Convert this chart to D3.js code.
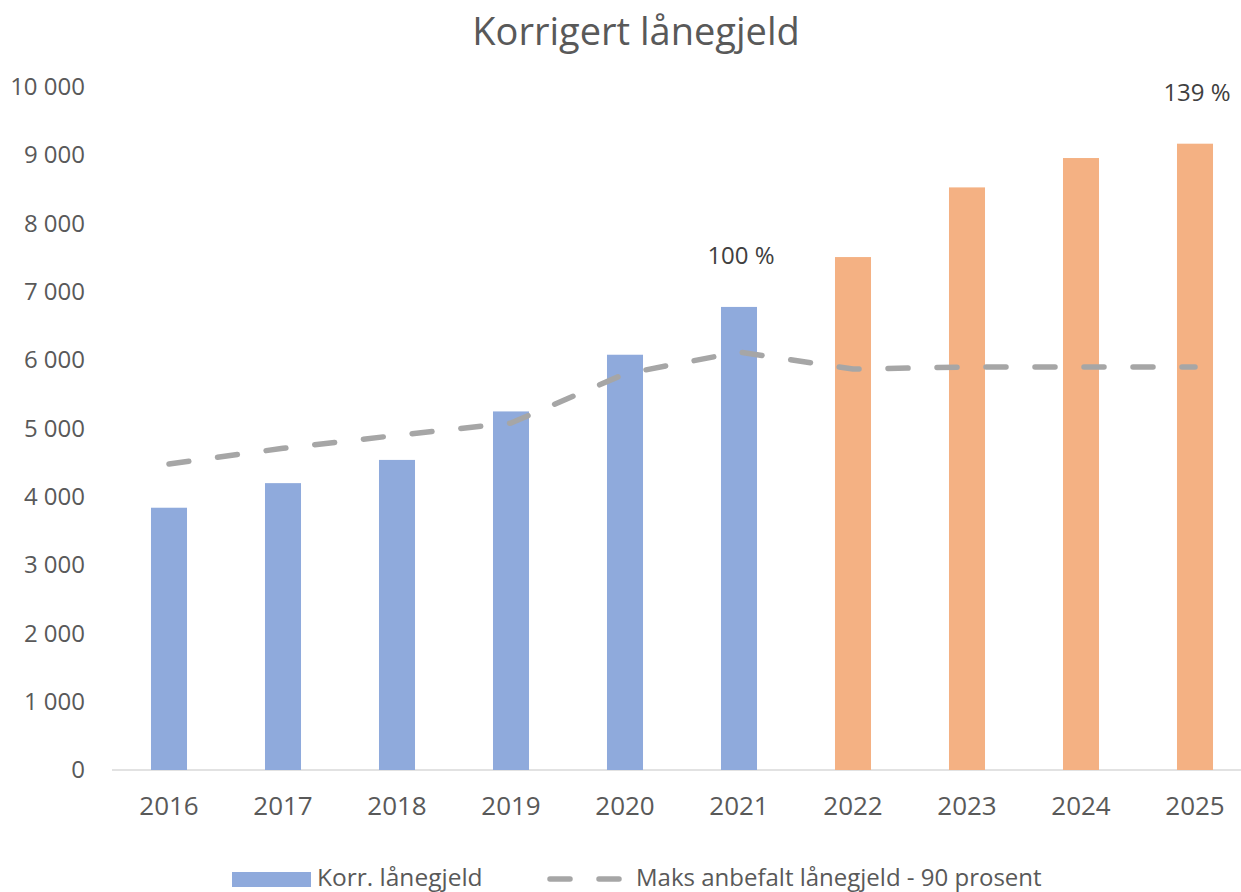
<!DOCTYPE html>
<html>
<head>
<meta charset="utf-8">
<script src="https://cdn.jsdelivr.net/npm/d3@7"></script>
<style>
  body { margin: 0; background: #fff; }
  svg { display: block; font-family: "Open Sans", sans-serif; }
</style>
</head>
<body>
<div id="chart"></div>
<script>
// data
const years = ['2016', '2017', '2018', '2019', '2020', '2021', '2022', '2023', '2024', '2025'];
const lanegjeld = [3840, 4200, 4540, 5250, 6080, 6780, 7510, 8530, 8960, 9170];
const maksAnbefalt = [4480, 4710, 4900, 5080, 5800, 6120, 5870, 5900, 5900, 5900];
const prognoseFra = '2022';
const pctYears = ['2021', '2025'];
const pctLabels = ['100 %', '139 %'];
const yTicks = [0, 1000, 2000, 3000, 4000, 5000, 6000, 7000, 8000, 9000, 10000];

const width = 1241, height = 892;
const blue = '#8faadc', orange = '#f4b183', grey = '#a6a6a6', text = '#595959';

const svg = d3.select('#chart').append('svg')
  .attr('width', width)
  .attr('height', height);

const x = d3.scaleBand()
  .domain(years)
  .range([112, 1252])
  .paddingInner(0.684)
  .paddingOuter(0.342);

const y = d3.scaleLinear()
  .domain([0, 10000])
  .range([770, 87]);

const nb = d3.formatLocale({ decimal: ',', thousands: '\u00a0', grouping: [3], currency: ['', ' kr'] });
const fmt = nb.format(',d');

// title
svg.append('text')
  .attr('x', 636)
  .attr('y', 45)
  .attr('text-anchor', 'middle')
  .attr('font-size', '38px')
  .attr('fill', text)
  .text('Korrigert lånegjeld');

// y axis (labels only)
const yAxis = svg.append('g')
  .attr('transform', 'translate(85,0)')
  .call(d3.axisLeft(y).tickValues(yTicks).tickFormat(fmt).tickSize(0).tickPadding(0));
yAxis.select('.domain').remove();
yAxis.selectAll('text')
  .attr('font-family', '"Open Sans", sans-serif')
  .attr('font-size', '24px')
  .attr('fill', text);

// baseline
svg.append('line')
  .attr('x1', 112)
  .attr('x2', width)
  .attr('y1', y(0))
  .attr('y2', y(0))
  .attr('stroke', '#d9d9d9')
  .attr('stroke-width', 1.5);

// x axis labels
const xAxis = svg.append('g')
  .attr('transform', `translate(0,${y(0)})`)
  .call(d3.axisBottom(x).tickSize(0).tickPadding(0));
xAxis.select('.domain').remove();
xAxis.selectAll('text')
  .attr('y', 45)
  .attr('dy', null)
  .attr('font-family', '"Open Sans", sans-serif')
  .attr('font-size', '26px')
  .attr('fill', text);

// bars
svg.append('g')
  .selectAll('rect')
  .data(years)
  .join('rect')
  .attr('x', d => x(d))
  .attr('y', (d, i) => y(lanegjeld[i]))
  .attr('width', x.bandwidth())
  .attr('height', (d, i) => y(0) - y(lanegjeld[i]))
  .attr('fill', d => d >= prognoseFra ? orange : blue);

// dashed line
const line = d3.line()
  .x((d, i) => x(years[i]) + x.bandwidth() / 2)
  .y(d => y(d));

svg.append('path')
  .datum(maksAnbefalt)
  .attr('d', line)
  .attr('fill', 'none')
  .attr('stroke', grey)
  .attr('stroke-width', 5.5)
  .attr('stroke-dasharray', '20,29')
  .attr('stroke-linecap', 'round')
  .attr('stroke-linejoin', 'round');

// percentage labels
svg.append('g')
  .selectAll('text')
  .data(pctYears)
  .join('text')
  .attr('x', d => x(d) + x.bandwidth() / 2 + 2)
  .attr('y', (d, i) => y(lanegjeld[years.indexOf(d)]) - 43)
  .attr('text-anchor', 'middle')
  .attr('font-size', '24px')
  .attr('fill', '#404040')
  .text((d, i) => pctLabels[i]);

// legend
const legend = svg.append('g');
legend.append('rect')
  .attr('x', 232)
  .attr('y', 872)
  .attr('width', 79)
  .attr('height', 15)
  .attr('fill', blue);
legend.append('text')
  .attr('x', 317)
  .attr('y', 886)
  .attr('font-size', '24.5px')
  .attr('fill', text)
  .text('Korr. lånegjeld');
legend.append('line')
  .attr('x1', 550)
  .attr('x2', 619)
  .attr('y1', 879)
  .attr('y2', 879)
  .attr('stroke', grey)
  .attr('stroke-width', 5.5)
  .attr('stroke-dasharray', '20,29')
  .attr('stroke-linecap', 'round');
legend.append('text')
  .attr('x', 636)
  .attr('y', 886)
  .attr('font-size', '24px')
  .attr('fill', text)
  .text('Maks anbefalt lånegjeld - 90 prosent');
</script>
</body>
</html>
